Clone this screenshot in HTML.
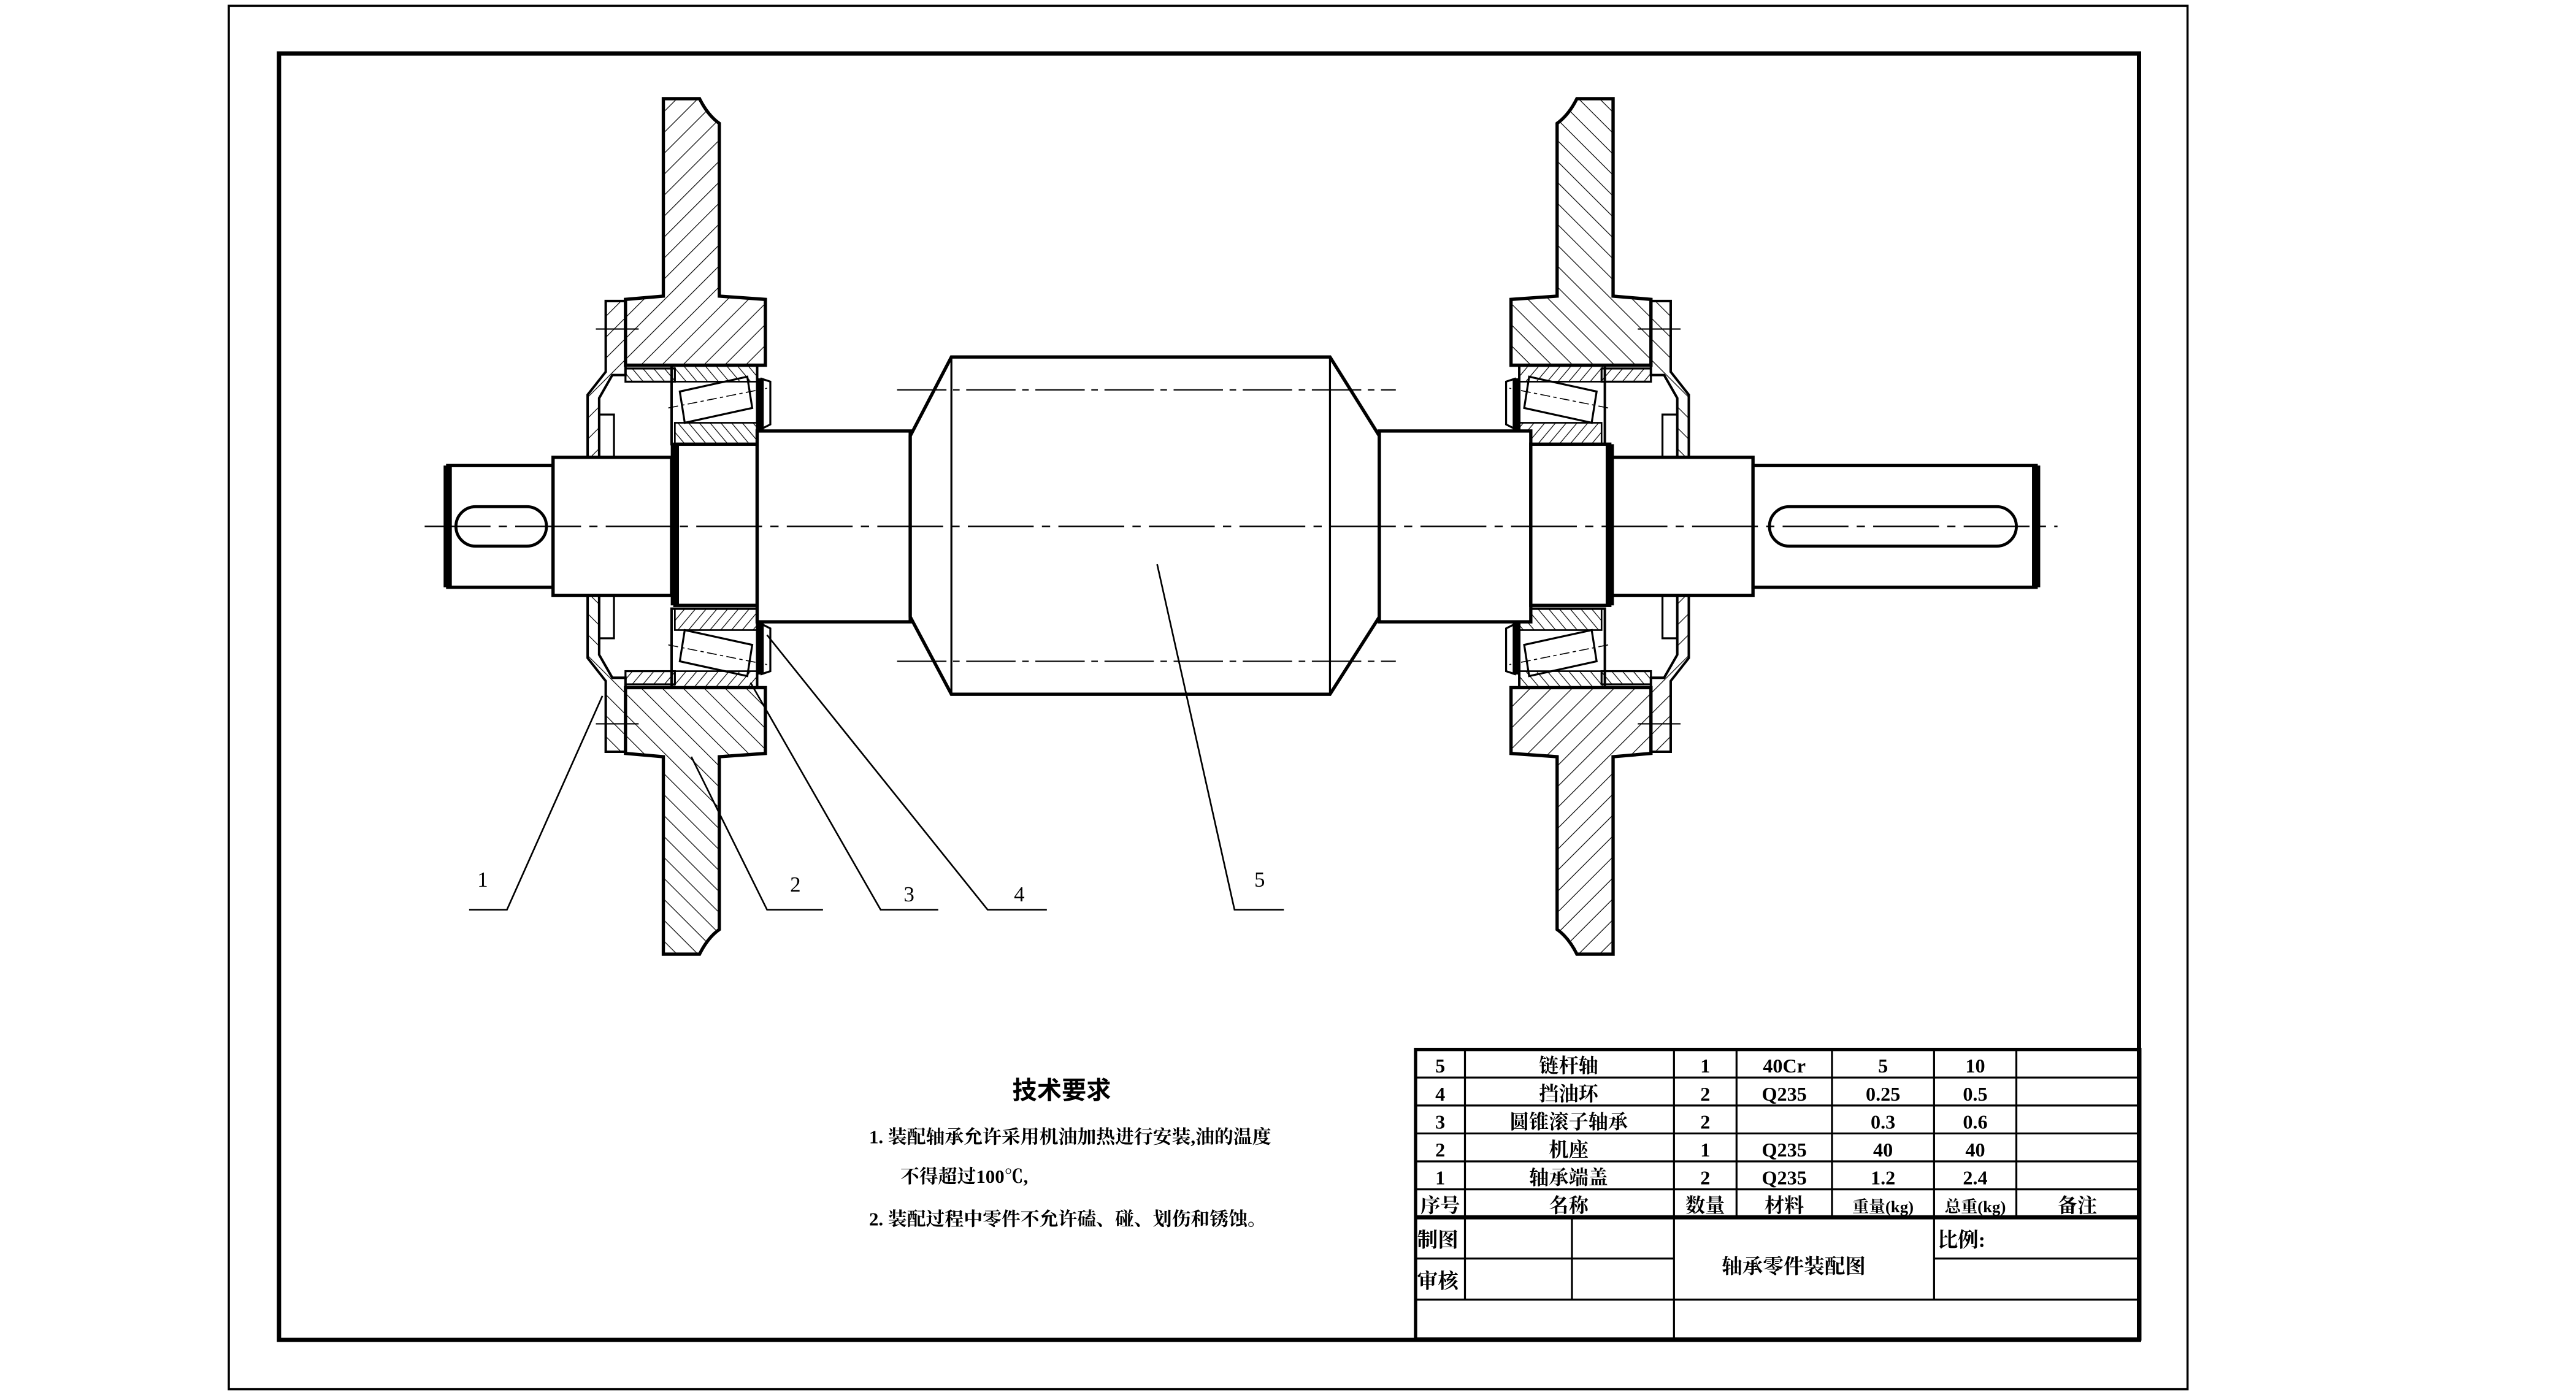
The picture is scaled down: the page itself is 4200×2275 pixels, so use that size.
<!DOCTYPE html>
<html><head><meta charset="utf-8"><style>
html,body{margin:0;padding:0;background:#fff;}
svg{display:block;}
text{font-family:"Liberation Serif","Noto Serif CJK SC","Noto Sans CJK SC",serif;fill:#000;}
.cj{font-family:"Liberation Sans","Noto Sans CJK SC",sans-serif;font-weight:bold;}
</style></head><body>
<svg width="4200" height="2275" viewBox="0 0 1565 848" preserveAspectRatio="none" xmlns="http://www.w3.org/2000/svg">
<defs>
<pattern id="h" patternUnits="userSpaceOnUse" width="9" height="9" patternTransform="rotate(45)">
<line x1="0" y1="0" x2="0" y2="9" stroke="#000" stroke-width="0.9"/>
</pattern>
<pattern id="h2" patternUnits="userSpaceOnUse" width="5" height="5" patternTransform="rotate(-40)">
<line x1="0" y1="0" x2="0" y2="5" stroke="#000" stroke-width="0.9"/>
</pattern>
<g id="half">
<path d="M403,60 L425,60 Q430,70 437,75 L437,180 L465,182 L465,222 L380,222 L380,182 L403,180 Z" fill="url(#h)" stroke="#000" stroke-width="2"/>
<polygon points="368,183 380,183 380,228 372,228 364,242 364,278 357,278 357,240 368,226" fill="url(#h)" stroke="#000" stroke-width="1.5"/>
<rect x="364" y="252" width="9" height="26" fill="none" stroke="#000" stroke-width="1.2"/>
<rect x="380" y="224" width="30" height="8" fill="url(#h2)" stroke="#000" stroke-width="1.2"/>
<line x1="362" y1="200" x2="388" y2="200" stroke="#000" stroke-width="0.8"/>
<rect x="408" y="222" width="52" height="48" fill="none" stroke="#000" stroke-width="1.5"/>
<rect x="408" y="222" width="52" height="10" fill="url(#h2)" stroke="#000" stroke-width="1"/>
<polygon points="413,238 454,229 457,248 416,257" fill="none" stroke="#000" stroke-width="1.2"/>
<line x1="406" y1="248" x2="466" y2="236" stroke="#000" stroke-width="0.6" stroke-dasharray="6,2,2,2"/>
<rect x="410" y="257" width="50" height="13" fill="url(#h2)" stroke="#000" stroke-width="1"/>
<line x1="462" y1="230" x2="462" y2="264" stroke="#000" stroke-width="4"/>
<polyline points="460,262 468,258 468,232 462,230" fill="none" stroke="#000" stroke-width="1.2"/>
</g>
<g id="side">
<use href="#half"/>
<use href="#half" transform="translate(0,640) scale(1,-1)"/>
</g>
</defs>
<rect width="1565" height="848" fill="#fff"/>
<rect x="139" y="3.5" width="1190" height="841" fill="none" stroke="#000" stroke-width="1.3"/>
<rect x="169.5" y="32.5" width="1130" height="782" fill="none" stroke="#000" stroke-width="2.6"/>

<use href="#side"/>
<use href="#side" transform="translate(1383,0) scale(-1,1)"/>

<g fill="#fff" stroke="#000" stroke-width="2">
<rect x="272" y="283" width="64" height="74"/>
<rect x="336" y="278" width="72" height="84"/>
<rect x="410" y="270" width="50" height="98"/>
<rect x="460" y="262" width="93" height="116"/>
<polygon points="553,265 578,217 808,217 838,265 838,375 808,422 578,422 553,375"/>
<rect x="838" y="262" width="92" height="116"/>
<rect x="930" y="270" width="48" height="98"/>
<rect x="978" y="278" width="87" height="84"/>
<rect x="1065" y="283" width="172" height="74"/>
</g>
<line x1="272" y1="283" x2="272" y2="357" stroke="#000" stroke-width="5"/>
<line x1="1237" y1="283" x2="1237" y2="357" stroke="#000" stroke-width="5"/>
<line x1="410" y1="270" x2="410" y2="368" stroke="#000" stroke-width="5"/>
<line x1="978" y1="270" x2="978" y2="368" stroke="#000" stroke-width="5"/>
<rect x="277" y="308" width="55" height="24" rx="12" fill="none" stroke="#000" stroke-width="1.8"/>
<rect x="1075" y="308" width="150" height="24" rx="12" fill="none" stroke="#000" stroke-width="1.8"/>
<line x1="578" y1="217" x2="578" y2="422" stroke="#000" stroke-width="1.2"/>
<line x1="808" y1="217" x2="808" y2="422" stroke="#000" stroke-width="1.2"/>
<line x1="545" y1="237" x2="848" y2="237" stroke="#000" stroke-width="0.8" stroke-dasharray="30,4,4,4"/>
<line x1="545" y1="402" x2="848" y2="402" stroke="#000" stroke-width="0.8" stroke-dasharray="30,4,4,4"/>
<line x1="258" y1="320" x2="1250" y2="320" stroke="#000" stroke-width="0.9" stroke-dasharray="40,5,5,5"/>

<g stroke="#000" stroke-width="1" fill="none">
<polyline points="285,553 308,553 366,423"/>
<polyline points="500,553 466,553 420,460"/>
<polyline points="570,553 535,553 456,415"/>
<polyline points="636,553 600,553 466,386"/>
<polyline points="780,553 750,553 703,343"/>
</g>
<g font-size="13">
<text x="290" y="539">1</text>
<text x="480" y="542">2</text>
<text x="549" y="548">3</text>
<text x="616" y="548">4</text>
<text x="762" y="539">5</text>
</g>

<text class="cj" x="615" y="668" font-size="15">技术要求</text>
<g class="cj" font-size="11.5">
<text x="528" y="695">1. 装配轴承允许采用机油加热进行安装,油的温度</text>
<text x="547" y="719">不得超过100℃,</text>
<text x="528" y="745">2. 装配过程中零件不允许磕、碰、划伤和锈蚀。</text>
</g>

<g stroke="#000" stroke-width="1.2" fill="none">
<rect x="860" y="638" width="440" height="176" stroke-width="2"/>
<line x1="860" y1="655" x2="1300" y2="655"/>
<line x1="860" y1="672" x2="1300" y2="672"/>
<line x1="860" y1="689" x2="1300" y2="689"/>
<line x1="860" y1="706" x2="1300" y2="706"/>
<line x1="860" y1="723" x2="1300" y2="723"/>
<line x1="860" y1="740" x2="1300" y2="740" stroke-width="2.5"/>
<line x1="890" y1="638" x2="890" y2="790"/>
<line x1="1017" y1="638" x2="1017" y2="814"/>
<line x1="1055" y1="638" x2="1055" y2="740"/>
<line x1="1113" y1="638" x2="1113" y2="740"/>
<line x1="1175" y1="638" x2="1175" y2="790"/>
<line x1="1225" y1="638" x2="1225" y2="740"/>
<line x1="955" y1="740" x2="955" y2="790"/>
<line x1="860" y1="765" x2="1017" y2="765"/>
<line x1="1175" y1="765" x2="1300" y2="765"/>
<line x1="860" y1="790" x2="1300" y2="790"/>
</g>
<g class="cj" font-size="12" text-anchor="middle">
<text x="875" y="652">5</text><text x="953" y="652">链杆轴</text><text x="1036" y="652">1</text><text x="1084" y="652">40Cr</text><text x="1144" y="652">5</text><text x="1200" y="652">10</text>
<text x="875" y="669">4</text><text x="953" y="669">挡油环</text><text x="1036" y="669">2</text><text x="1084" y="669">Q235</text><text x="1144" y="669">0.25</text><text x="1200" y="669">0.5</text>
<text x="875" y="686">3</text><text x="953" y="686">圆锥滚子轴承</text><text x="1036" y="686">2</text><text x="1144" y="686">0.3</text><text x="1200" y="686">0.6</text>
<text x="875" y="703">2</text><text x="953" y="703">机座</text><text x="1036" y="703">1</text><text x="1084" y="703">Q235</text><text x="1144" y="703">40</text><text x="1200" y="703">40</text>
<text x="875" y="720">1</text><text x="953" y="720">轴承端盖</text><text x="1036" y="720">2</text><text x="1084" y="720">Q235</text><text x="1144" y="720">1.2</text><text x="1200" y="720">2.4</text>
<text x="875" y="737">序号</text><text x="953" y="737">名称</text><text x="1036" y="737">数量</text><text x="1084" y="737">材料</text><text x="1144" y="737" font-size="10">重量(kg)</text><text x="1200" y="737" font-size="10">总重(kg)</text><text x="1262" y="737">备注</text>
</g>
<g class="cj" font-size="12.5">
<text x="861" y="758">制图</text>
<text x="861" y="783">审核</text>
<text x="1046" y="774">轴承零件装配图</text>
<text x="1177" y="758">比例:</text>
</g>
</svg>
</body></html>
